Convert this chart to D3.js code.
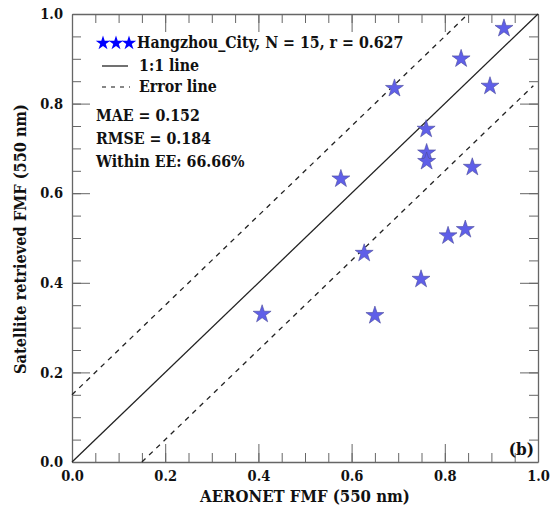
<!DOCTYPE html>
<html>
<head>
<meta charset="utf-8">
<script src="https://cdn.jsdelivr.net/npm/d3@7"></script>
<style>
  body { margin: 0; background: #fff; }
  text { font-family: "DejaVu Serif Condensed", "DejaVu Serif", serif; font-stretch: condensed; font-weight: bold; fill: #111; }
</style>
</head>
<body>
<div id="chart"></div>
<script>
// AERONET FMF (x) vs satellite retrieved FMF (y), Hangzhou_City
const aeronetFmf = [0.927, 0.835, 0.692, 0.897, 0.760, 0.761, 0.761, 0.859, 0.577, 0.807, 0.844, 0.627, 0.749, 0.408, 0.650]
const satelliteFmf = [0.968, 0.900, 0.834, 0.839, 0.743, 0.690, 0.671, 0.658, 0.632, 0.505, 0.519, 0.466, 0.408, 0.330, 0.327]
const majorTicks = [0, 0.2, 0.4, 0.6, 0.8, 1.0]
const minorTicks = d3.range(0, 1.0001, 0.05)
const errorOffset = 0.15
const statsLines = ["MAE = 0.152", "RMSE = 0.184", "Within EE: 66.66%"]

class ScatterChart {
  constructor(element) {
    this.width = 556
    this.height = 506
    this.margin = { left: 72, top: 14, right: 18, bottom: 44 }
    this.innerW = this.width - this.margin.left - this.margin.right
    this.innerH = this.height - this.margin.top - this.margin.bottom

    const svg = d3.select(element)
      .append("svg")
      .attr("width", this.width)
      .attr("height", this.height)

    this.g = svg.append("g")
      .attr("transform", `translate(${this.margin.left}, ${this.margin.top})`)

    this.x = d3.scaleLinear().domain([0, 1]).range([0, this.innerW])
    this.y = d3.scaleLinear().domain([0, 1]).range([this.innerH, 0])

    this.drawAxes()
    this.drawLines()
    this.drawPoints()
    this.drawLegend()
  }

  drawAxes() {
    const { g, x, y, innerW, innerH } = this
    const axisColor = "#666"

    // minor + major ticks, pointing inward on all four sides
    const sides = [
      { axis: d3.axisBottom(x), t: `translate(0, ${innerH})` },
      { axis: d3.axisTop(x), t: `translate(0, 0)` },
      { axis: d3.axisLeft(y), t: `translate(0, 0)` },
      { axis: d3.axisRight(y), t: `translate(${innerW}, 0)` }
    ]
    sides.forEach(s => {
      const minor = g.append("g").attr("transform", s.t)
        .call(s.axis.tickValues(minorTicks).tickSize(-9).tickFormat("").tickSizeOuter(0))
      minor.select(".domain").attr("stroke", axisColor).attr("stroke-width", 1.3)
      minor.selectAll(".tick line").attr("stroke", axisColor)
      const major = g.append("g").attr("transform", s.t)
        .call(s.axis.tickValues(majorTicks).tickSize(-18).tickFormat("").tickSizeOuter(0))
      major.select(".domain").remove()
      major.selectAll(".tick line").attr("stroke", axisColor)
    })

    // tick labels
    g.append("g").attr("transform", `translate(0, ${innerH})`)
      .call(d3.axisBottom(x).tickValues(majorTicks).tickSize(0).tickPadding(9).tickFormat(d3.format(".1f")))
      .call(a => a.select(".domain").remove())
      .selectAll("text").attr("font-size", 14.5).attr("fill", "#111")
      .attr("font-family", null)

    g.append("g")
      .call(d3.axisLeft(y).tickValues(majorTicks).tickSize(0).tickPadding(9).tickFormat(d3.format(".1f")))
      .call(a => a.select(".domain").remove())
      .selectAll("text").attr("font-size", 14.5).attr("fill", "#111")
      .attr("font-family", null)

    // axis titles
    g.append("text")
      .attr("x", innerW / 2)
      .attr("y", innerH + 40)
      .attr("text-anchor", "middle")
      .attr("font-size", 16.6)
      .text("AERONET FMF (550 nm)")

    g.append("text")
      .attr("transform", `translate(-46, ${innerH / 2 + 1}) rotate(-90)`)
      .attr("text-anchor", "middle")
      .attr("font-size", 16.2)
      .text("Satellite retrieved FMF (550 nm)")

    g.append("text")
      .attr("x", innerW - 4)
      .attr("y", innerH - 7)
      .attr("text-anchor", "end")
      .attr("font-size", 17)
      .text("(b)")
  }

  drawLines() {
    const { g, x, y } = this
    const line = d3.line().x(d => x(d[0])).y(d => y(d[1]))

    g.append("path")
      .attr("d", line([[0, 0], [1, 1]]))
      .attr("stroke", "#222").attr("stroke-width", 1.3).attr("fill", "none")

    g.append("path")
      .attr("d", line([[0, errorOffset], [1 - errorOffset, 1]]))
      .attr("stroke", "#222").attr("stroke-width", 1.3).attr("fill", "none")
      .attr("stroke-dasharray", "5,5")

    g.append("path")
      .attr("d", line([[errorOffset, 0], [0.99, 0.99 - errorOffset]]))
      .attr("stroke", "#222").attr("stroke-width", 1.3).attr("fill", "none")
      .attr("stroke-dasharray", "5,5")
  }

  drawPoints() {
    const { g, x, y } = this
    const star = d3.symbol().type(d3.symbolStar).size(100)
    g.selectAll(".pt")
      .data(aeronetFmf.map((v, i) => [v, satelliteFmf[i]]))
      .enter()
      .append("path")
      .attr("class", "pt")
      .attr("d", star)
      .attr("transform", d => `translate(${x(d[0])}, ${y(d[1])})`)
      .attr("fill", "#5f5fe8")
      .attr("stroke", "#4a4a9a")
      .attr("stroke-width", 0.6)
  }

  drawLegend() {
    const { g } = this
    const lg = g.append("g")
    const star = d3.symbol().type(d3.symbolStar).size(65)

    lg.selectAll(".lstar")
      .data([31, 44, 57])
      .enter()
      .append("path")
      .attr("d", star)
      .attr("transform", d => `translate(${d}, 29)`)
      .attr("fill", "#0000ff")

    lg.append("text").attr("x", 65).attr("y", 34).attr("font-size", 15.8)
      .text("Hangzhou_City, N = 15, r = 0.627")

    lg.append("line").attr("x1", 30).attr("x2", 56).attr("y1", 52).attr("y2", 52)
      .attr("stroke", "#111").attr("stroke-width", 1.2)
    lg.append("text").attr("x", 67).attr("y", 57).attr("font-size", 15.8).text("1:1 line")

    lg.append("line").attr("x1", 30).attr("x2", 58).attr("y1", 73).attr("y2", 73)
      .attr("stroke", "#111").attr("stroke-width", 1.2).attr("stroke-dasharray", "4,5")
    lg.append("text").attr("x", 67).attr("y", 78).attr("font-size", 15.8).text("Error line")

    lg.selectAll(".stat")
      .data(statsLines)
      .enter()
      .append("text")
      .attr("x", 24)
      .attr("y", (d, i) => 107 + i * 23)
      .attr("font-size", 15.8)
      .text(d => d)
  }
}

new ScatterChart(document.getElementById("chart"))
</script>
</body>
</html>
